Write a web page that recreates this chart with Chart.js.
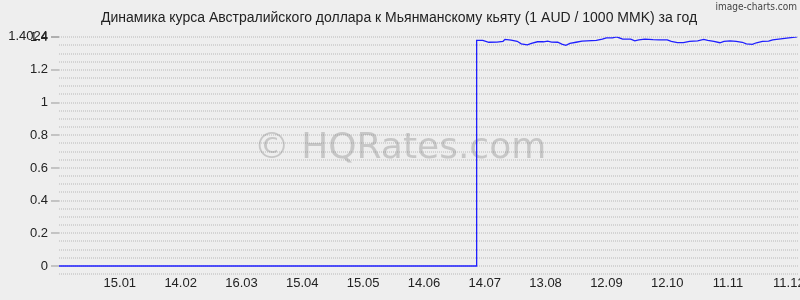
<!DOCTYPE html>
<html><head><meta charset="utf-8">
<script src="https://cdn.jsdelivr.net/npm/chart.js@4"></script>
<style>
html,body{margin:0;padding:0;background:#eeeeee;}
#wrap{position:relative;width:800px;height:300px;}
#brand{position:absolute;right:3px;top:1px;font:10px "DejaVu Sans Condensed","DejaVu Sans",sans-serif;color:#444;}
canvas{display:block;}
</style></head><body>
<div id="wrap"><canvas id="c" width="800" height="300"></canvas><div id="brand">image-charts.com</div></div>
<script>
const titleText = "Динамика курса Австралийского доллара к Мьянманскому кьяту (1 AUD / 1000 MMK) за год";
const watermarkText = "© HQRates.com";
const xTickDays = [30, 60, 90, 120, 150, 180, 210, 240, 270, 300, 330, 360];
const xTickLabels = ["15.01", "14.02", "16.03", "15.04", "15.05", "14.06", "14.07", "13.08", "12.09", "12.10", "11.11", "11.12"];
const yTickValues = [0, 0.2, 0.4, 0.6, 0.8, 1, 1.2, 1.4, 1.4024];
const yTickLabels = ["0", "0.2", "0.4", "0.6", "0.8", "1", "1.2", "1.4", "1.4024"];
const days = [0, 206, 206, 209, 212, 216, 219, 220, 223, 226,
  228, 231, 233, 236, 239, 241, 243, 246, 248, 250,
  252, 255, 258, 265, 268, 270, 273, 275, 278, 282,
  284, 286, 289, 293, 296, 300, 302, 305, 308, 311,
  315, 318, 320, 323, 326, 328, 331, 334, 337, 339,
  342, 344, 347, 350, 352, 356, 359, 363, 364];
const rates = [0, 0, 1.381, 1.381, 1.369, 1.370, 1.375, 1.387, 1.382, 1.375,
  1.359, 1.353, 1.362, 1.372, 1.372, 1.376, 1.370, 1.369, 1.358, 1.350,
  1.362, 1.369, 1.376, 1.381, 1.388, 1.396, 1.396, 1.4024, 1.388, 1.388,
  1.378, 1.384, 1.388, 1.385, 1.384, 1.384, 1.374, 1.367, 1.367, 1.374,
  1.378, 1.387, 1.380, 1.374, 1.366, 1.374, 1.378, 1.374, 1.369, 1.359,
  1.356, 1.366, 1.375, 1.376, 1.384, 1.390, 1.394, 1.400, 1.402];

// grid rows: every 0.05 plus labelled ticks
const gridValues = [];
for (let i = -1; i <= 28; i++) gridValues.push(Math.round(i * 5) / 100);
yTickValues.forEach(v => { if (!gridValues.includes(v)) gridValues.push(v); });
gridValues.sort((a, b) => a - b);

const points = days.map((d, i) => ({x: d, y: rates[i]}));

const watermark = {
  id: 'watermark',
  beforeDatasetsDraw(chart) {
    const {ctx} = chart;
    ctx.save();
    ctx.font = '36px "DejaVu Sans", sans-serif';
    ctx.fillStyle = 'rgba(110,110,110,0.3)';
    ctx.textAlign = 'center';
    ctx.textBaseline = 'alphabetic';
    ctx.fillText(watermarkText, 400, 158);
    ctx.restore();
  }
};

new Chart(document.getElementById('c'), {
  type: 'line',
  data: { datasets: [{ data: points, borderColor: '#1f1fff', borderWidth: 1.3, pointRadius: 0, tension: 0, fill: false }] },
  options: {
    responsive: false, animation: false,
    layout: { padding: { left: 0, right: 2, top: 0, bottom: 0 } },
    plugins: {
      legend: { display: false }, tooltip: { enabled: false },
      title: { display: true, text: titleText, color: '#222',
        font: { family: '"Liberation Sans", Arial, sans-serif', size: 14, weight: 'normal' },
        padding: { top: 10, bottom: 10 } }
    },
    scales: {
      x: {
        type: 'linear', min: 0, max: 364.5,
        afterBuildTicks: s => { s.ticks = xTickDays.map(v => ({value: v})); },
        afterFit: s => { s.height = 25; s.paddingLeft = 0; s.paddingRight = 0; },
        grid: { display: false, drawTicks: false },
        border: { display: false },
        ticks: { autoSkip: false, maxRotation: 0, padding: 1, color: '#222',
          font: { family: '"Liberation Sans", Arial, sans-serif', size: 13 },
          callback: (v) => { const i = xTickDays.indexOf(v); return i >= 0 ? xTickLabels[i] : ''; } }
      },
      y: {
        type: 'linear', min: -0.055, max: 1.4024,
        afterBuildTicks: s => { s.ticks = gridValues.map(v => ({value: v})); },
        afterFit: s => { s.width = 59; },
        grid: { color: '#d3d3d3', lineWidth: 2, tickLength: 8, tickWidth: 1, tickBorderDash: [],
          tickColor: (c) => (c.tick && yTickValues.includes(c.tick.value)) ? '#999' : 'rgba(0,0,0,0)' },
        border: { display: false, dash: [1, 1] },
        ticks: { autoSkip: false, padding: 3, color: '#222',
          font: { family: '"Liberation Sans", Arial, sans-serif', size: 13 },
          callback: (v) => { const i = yTickValues.indexOf(v); return i >= 0 ? yTickLabels[i] : ''; } }
      }
    }
  },
  plugins: [watermark]
});
</script>
</body></html>
